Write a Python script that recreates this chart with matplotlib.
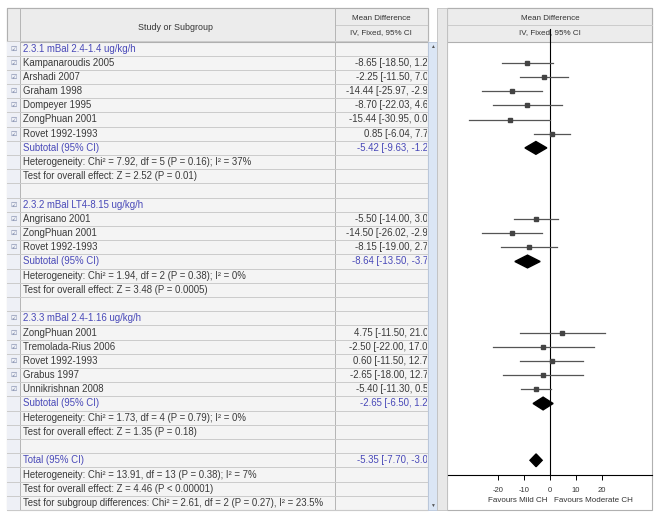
import numpy as np
import matplotlib
matplotlib.use("Agg")
import matplotlib.pyplot as plt
from matplotlib.patches import Rectangle
from matplotlib.transforms import Bbox, TransformedBbox

plt.rcParams['font.family'] = ['Liberation Sans', 'DejaVu Sans']

# subgroup 2.3.1
g1_head = "2.3.1 mBal 2.4-1.4 ug/kg/h"
g1_names = ["Kampanaroudis 2005", "Arshadi 2007", "Graham 1998", "Dompeyer 1995",
            "ZongPhuan 2001", "Rovet 1992-1993"]
g1_md = [-8.65, -2.25, -14.44, -8.70, -15.44, 0.85]
g1_lo = [-18.50, -11.50, -25.97, -22.03, -30.95, -6.04]
g1_hi = [1.20, 7.00, -2.91, 4.63, 0.07, 7.74]
g1_sub = [-5.42, -9.63, -1.21]
g1_het = "Heterogeneity: Chi² = 7.92, df = 5 (P = 0.16); I² = 37%"
g1_z = "Test for overall effect: Z = 2.52 (P = 0.01)"

# subgroup 2.3.2
g2_head = "2.3.2 mBal LT4-8.15 ug/kg/h"
g2_names = ["Angrisano 2001", "ZongPhuan 2001", "Rovet 1992-1993"]
g2_md = [-5.50, -14.50, -8.15]
g2_lo = [-14.00, -26.02, -19.00]
g2_hi = [3.00, -2.98, 2.70]
g2_sub = [-8.64, -13.50, -3.78]
g2_het = "Heterogeneity: Chi² = 1.94, df = 2 (P = 0.38); I² = 0%"
g2_z = "Test for overall effect: Z = 3.48 (P = 0.0005)"

# subgroup 2.3.3
g3_head = "2.3.3 mBal 2.4-1.16 ug/kg/h"
g3_names = ["ZongPhuan 2001", "Tremolada-Rius 2006", "Rovet 1992-1993", "Grabus 1997",
            "Unnikrishnan 2008"]
g3_md = [4.75, -2.50, 0.60, -2.65, -5.40]
g3_lo = [-11.50, -22.00, -11.50, -18.00, -11.30]
g3_hi = [21.00, 17.00, 12.70, 12.70, 0.50]
g3_sub = [-2.65, -6.50, 1.20]
g3_het = "Heterogeneity: Chi² = 1.73, df = 4 (P = 0.79); I² = 0%"
g3_z = "Test for overall effect: Z = 1.35 (P = 0.18)"

total = [-5.35, -7.70, -3.00]
total_het = "Heterogeneity: Chi² = 13.91, df = 13 (P = 0.38); I² = 7%"
total_z = "Test for overall effect: Z = 4.46 (P < 0.00001)"
total_diff = "Test for subgroup differences: Chi² = 2.61, df = 2 (P = 0.27), I² = 23.5%"

ticks = [-20, -10, 0, 10, 20]
fav_left = "Favours Mild CH"
fav_right = "Favours Moderate CH"

# build the row list
rows = []
groups = [(g1_head, g1_names, g1_md, g1_lo, g1_hi, g1_sub, g1_het, g1_z),
          (g2_head, g2_names, g2_md, g2_lo, g2_hi, g2_sub, g2_het, g2_z),
          (g3_head, g3_names, g3_md, g3_lo, g3_hi, g3_sub, g3_het, g3_z)]
for head, names, md, lo, hi, sub, het, z in groups:
    rows.append(("head", head, None))
    for n, m, l, h in zip(names, md, lo, hi):
        rows.append(("study", n, (m, l, h)))
    rows.append(("sub", "Subtotal (95% CI)", sub))
    rows.append(("text", het, None))
    rows.append(("text", z, None))
    rows.append(("blank", "", None))
rows.append(("total", "Total (95% CI)", total))
rows.append(("text", total_het, None))
rows.append(("text", total_z, None))
rows.append(("text", total_diff, None))

W, H = 654, 513
ROW0, ROWH = 48.5, 14.2
TOP, BOT = 42, 510
BLUE = "#4848b8"
GRID = "#cbcbcb"
FS = 6.9

fig = plt.figure(figsize=(W / 100, H / 100), dpi=100)
fig.patch.set_facecolor("white")
bg = fig.add_axes([0, 0, 1, 1])
bg.set_xlim(0, W)
bg.set_ylim(H, 0)
bg.axis("off")

# table frame
bg.add_patch(Rectangle((7, 8), 428 - 7, BOT - 8, fc="#f4f4f4", ec="#b0b0b0", lw=0.8))
bg.add_patch(Rectangle((7, 8), 428 - 7, TOP - 8, fc="#ececec", ec="#b0b0b0", lw=0.8))
bg.add_patch(Rectangle((7, TOP), 13, BOT - TOP, fc="#eef0f6", ec="none"))
bg.add_patch(Rectangle((428, TOP), 9, BOT - TOP, fc="#dbe6f5", ec="#b8c6dc", lw=0.6, zorder=5))
bg.add_patch(Rectangle((437, 8), 10, BOT - 8, fc="#e8e8e8", ec="#c0c0c0", lw=0.6, zorder=5))
bg.add_patch(Rectangle((447, 8), 205, BOT - 8, fc="white", ec="#b0b0b0", lw=0.8))
bg.add_patch(Rectangle((447, 8), 205, TOP - 8, fc="#ececec", ec="#b0b0b0", lw=0.8))
bg.plot([335, 428], [25, 25], color=GRID, lw=0.7)
bg.plot([447, 652], [25, 25], color=GRID, lw=0.7)
for x in [20, 335, 428]:
    bg.plot([x, x], [8, BOT], color="#b5b5b5", lw=0.7)
for i in range(len(rows) + 1):
    y = ROW0 - ROWH / 2 + i * ROWH
    if y > BOT:
        break
    bg.plot([7, 428], [y, y], color=GRID, lw=0.7)

bg.text(175, 27, "Study or Subgroup", ha="center", va="center", fontsize=6.4, color="#333333")
bg.text(381, 18, "Mean Difference", ha="center", va="center", fontsize=5.8, color="#333333")
bg.text(381, 33, "IV, Fixed, 95% CI", ha="center", va="center", fontsize=5.8, color="#333333")
bg.text(550, 18, "Mean Difference", ha="center", va="center", fontsize=5.8, color="#333333")
bg.text(550, 33, "IV, Fixed, 95% CI", ha="center", va="center", fontsize=5.8, color="#333333")
bg.text(432.5, 46, "▲", ha="center", va="center", fontsize=3.5, color="#555555", zorder=6)
bg.text(432.5, 505, "▼", ha="center", va="center", fontsize=3.5, color="#555555", zorder=6)

clipbox = TransformedBbox(Bbox([[335, TOP], [427, BOT]]), bg.transData)

for i, (kind, label, vals) in enumerate(rows):
    y = ROW0 + i * ROWH
    if kind in ("head", "study"):
        bg.text(13.5, y, "☑", ha="center", va="center", fontsize=5, color="#7a86a8",
                family=["DejaVu Sans"])
    col = BLUE if kind in ("head", "sub", "total") else "#3a3a3a"
    bg.text(23, y, label, ha="left", va="center", fontsize=FS, color=col)
    if vals is not None:
        m, l, h = vals
        t = bg.text(436, y, f"{m:.2f} [{l:.2f}, {h:.2f}]", ha="right", va="center",
                    fontsize=FS, color=col, zorder=2)
        t.set_clip_box(clipbox)
        t.set_clip_on(True)

# forest panel
AX_Y = 475
fx = fig.add_axes([448 / W, 1 - AX_Y / H, (652 - 448) / W, (AX_Y - TOP) / H])
fx.set_xlim(-39.2, 39.2)
fx.set_ylim((AX_Y - ROW0) / ROWH, (TOP - ROW0) / ROWH)
fx.patch.set_alpha(0)
for s in ["top", "left", "right"]:
    fx.spines[s].set_visible(False)
fx.spines["bottom"].set_linewidth(0.8)
fx.set_yticks([])
fx.set_xticks(ticks)
fx.set_xticklabels([str(t) for t in ticks], fontsize=5.5, color="#333333")
fx.tick_params(axis="x", length=3.5, width=0.7, pad=5)
fx.axvline(0, ymax=1.03, color="black", lw=0.8, clip_on=False)

for i, (kind, label, vals) in enumerate(rows):
    if vals is None:
        continue
    m, l, h = vals
    if kind == "study":
        fx.plot([l, h], [i, i], color="#555555", lw=0.9)
        fx.plot(m, i, "s", color="#444444", ms=2.2)
    else:
        hh = 0.45
        fx.fill([l, m, h, m], [i, i - hh, i, i + hh], color="black")

bg.text(548, 500, fav_left, ha="right", va="center", fontsize=5.8, color="#333333")
bg.text(554, 500, fav_right, ha="left", va="center", fontsize=5.8, color="#333333")

fig.savefig("out.png", dpi=100, facecolor="white")
